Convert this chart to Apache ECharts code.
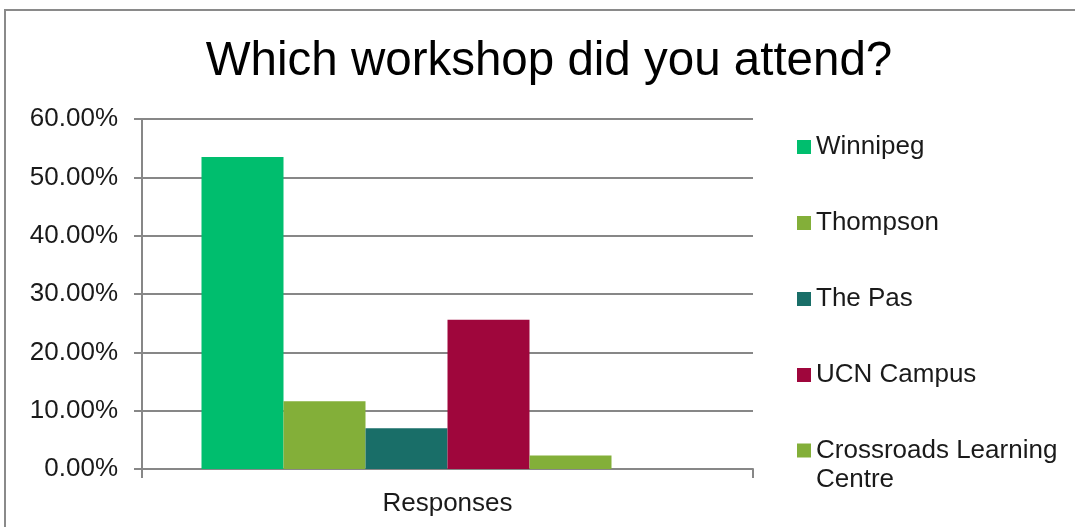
<!DOCTYPE html>
<html>
<head>
<meta charset="utf-8">
<script src="https://cdn.jsdelivr.net/npm/echarts@6/dist/echarts.min.js"></script>
<style>
html,body{margin:0;padding:0;background:#fff;}
#chart{width:1075px;height:527px;}
</style>
</head>
<body>
<div id="chart"></div>
<script>
const titleText = 'Which workshop did you attend?';
const categories = ['Responses'];
const seriesNames = ['Winnipeg', 'Thompson', 'The Pas', 'UCN Campus', 'Crossroads Learning Centre'];
const seriesValues = [[53.49], [11.63], [6.98], [25.58], [2.33]];
const seriesColors = ['#00BE6E', '#83AF39', '#196E68', '#9F063C', '#83AF39'];
// empty placeholder slot present in the original chart's bar group
const placeholderValues = [null];
const yTicks = { min: 0, max: 60, interval: 10 };

const font = '"Liberation Sans", Arial, sans-serif';
const chart = echarts.init(document.getElementById('chart'), null, { renderer: 'canvas' });

const series = seriesNames.map((n, i) => ({
  name: n,
  type: 'bar',
  data: seriesValues[i],
  barWidth: 82,
  barGap: '0%',
  itemStyle: { color: seriesColors[i] }
}));
series.push({ name: '_empty', type: 'bar', data: placeholderValues, barWidth: 82, barGap: '0%' });

const legendText = { fontFamily: font, fontSize: 26, color: '#1a1a1a' };

chart.setOption({
  animation: false,
  title: {
    text: titleText,
    left: 549,
    textAlign: 'center',
    top: 38,
    padding: 0,
    textStyle: { fontFamily: font, fontSize: 47.5, fontWeight: 'normal', color: '#000' }
  },
  grid: { left: 142, right: 322, top: 119, bottom: 58, containLabel: false },
  legend: [{
    data: seriesNames.slice(0, 4),
    orient: 'vertical',
    left: 797,
    top: 134,
    padding: 0,
    itemWidth: 14,
    itemHeight: 14,
    itemGap: 50,
    icon: 'rect',
    textStyle: legendText,
    selectedMode: false
  }, {
    data: seriesNames.slice(4),
    orient: 'vertical',
    left: 797,
    top: 407,
    padding: 0,
    itemWidth: 14,
    itemHeight: 14,
    icon: 'rect',
    textStyle: Object.assign({}, legendText, { lineHeight: 29 }),
    formatter: n => '\n' + n.replace('Learning ', 'Learning\n'),
    selectedMode: false
  }],
  xAxis: {
    type: 'category',
    data: categories,
    axisLine: { lineStyle: { color: '#878787', width: 2 } },
    axisTick: { show: true, length: 9, lineStyle: { color: '#878787', width: 2 } },
    axisLabel: { fontFamily: font, fontSize: 26, color: '#1a1a1a', margin: 22 }
  },
  yAxis: {
    type: 'value',
    min: yTicks.min,
    max: yTicks.max,
    interval: yTicks.interval,
    axisLine: { show: true, lineStyle: { color: '#878787', width: 2 } },
    axisTick: { show: true, length: 8, lineStyle: { color: '#878787', width: 2 } },
    splitLine: { lineStyle: { color: '#878787', width: 2 } },
    axisLabel: { fontFamily: font, fontSize: 26, color: '#1a1a1a', margin: 24,
      formatter: v => v.toFixed(2) + '%' }
  },
  graphic: [{
    type: 'rect',
    shape: { x: 5, y: 10, width: 1200, height: 700 },
    style: { fill: 'none', stroke: '#8a8a8a', lineWidth: 2 },
    silent: true
  }],
  series: series
});
</script>
</body>
</html>
